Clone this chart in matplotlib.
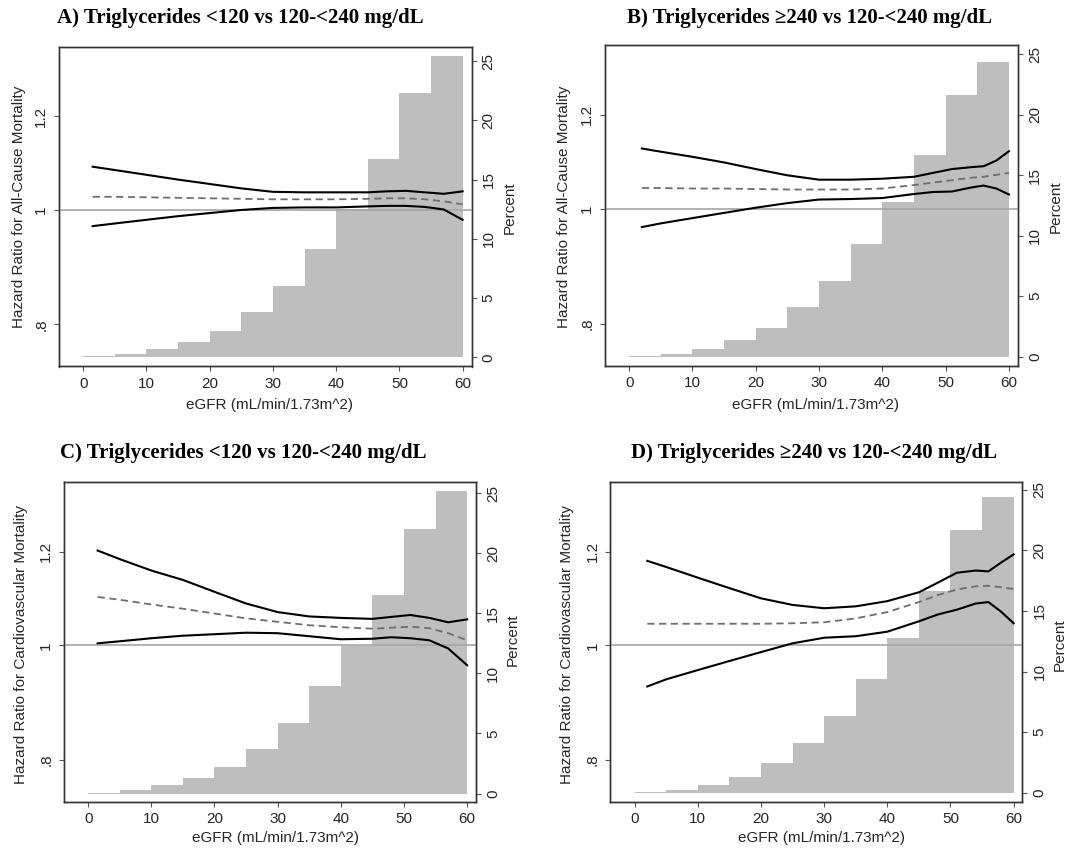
import numpy as np
import matplotlib
matplotlib.use("Agg")
import matplotlib.pyplot as plt
from matplotlib.ticker import NullLocator

# histogram of eGFR (percent of patients per 5-unit bin)
bin_left = [0, 5, 10, 15, 20, 25, 30, 35, 40, 45, 50, 55]
pct_a = [0.07, 0.25, 0.7, 1.33, 2.23, 3.84, 5.99, 9.15, 12.54, 16.72, 22.3, 25.45]
pct_b = [0.07, 0.2, 0.66, 1.35, 2.4, 4.08, 6.28, 9.34, 12.79, 16.68, 21.6, 24.37]
pct_c = [0.08, 0.28, 0.7, 1.33, 2.22, 3.75, 5.89, 8.94, 12.3, 16.5, 22.0, 25.17]
pct_d = [0.07, 0.22, 0.69, 1.35, 2.43, 4.09, 6.35, 9.39, 12.76, 16.68, 21.63, 24.37]

# hazard ratio curves (upper CI, estimate, lower CI)
x_a = [1.5, 5, 10, 15, 20, 25, 30, 35, 40, 45, 48, 51, 54, 57, 60]
up_a = [1.088, 1.081, 1.071, 1.061, 1.052, 1.043, 1.036, 1.035, 1.035, 1.035, 1.037, 1.038, 1.035, 1.032, 1.037]
est_a = [1.026, 1.026, 1.025, 1.024, 1.023, 1.022, 1.021, 1.021, 1.021, 1.022, 1.023, 1.023, 1.021, 1.017, 1.011]
lo_a = [0.969, 0.974, 0.981, 0.988, 0.994, 1.000, 1.004, 1.005, 1.005, 1.007, 1.008, 1.008, 1.006, 1.001, 0.981]

x_b = [2, 5, 10, 15, 20, 25, 30, 35, 40, 45, 48, 51, 54, 56, 58, 60]
up_b = [1.124, 1.117, 1.106, 1.094, 1.080, 1.067, 1.058, 1.058, 1.060, 1.064, 1.072, 1.080, 1.084, 1.086, 1.098, 1.118]
est_b = [1.041, 1.041, 1.040, 1.040, 1.039, 1.038, 1.038, 1.038, 1.040, 1.047, 1.052, 1.057, 1.062, 1.064, 1.068, 1.072]
lo_b = [0.965, 0.972, 0.982, 0.992, 1.002, 1.011, 1.018, 1.019, 1.021, 1.029, 1.033, 1.034, 1.042, 1.046, 1.040, 1.028]

x_c = [1.5, 5, 10, 15, 20, 25, 30, 35, 40, 45, 48, 51, 54, 57, 60]
up_c = [1.203, 1.183, 1.157, 1.136, 1.110, 1.085, 1.067, 1.058, 1.055, 1.053, 1.057, 1.061, 1.055, 1.046, 1.052]
est_c = [1.099, 1.093, 1.083, 1.074, 1.064, 1.054, 1.047, 1.040, 1.036, 1.033, 1.035, 1.037, 1.034, 1.024, 1.010]
lo_c = [1.004, 1.008, 1.014, 1.019, 1.022, 1.025, 1.024, 1.018, 1.012, 1.013, 1.016, 1.014, 1.010, 0.994, 0.962]

x_d = [2, 5, 10, 15, 20, 25, 30, 35, 40, 45, 48, 51, 54, 56, 58, 60]
up_d = [1.179, 1.165, 1.141, 1.118, 1.096, 1.082, 1.075, 1.079, 1.090, 1.109, 1.130, 1.152, 1.157, 1.155, 1.175, 1.194]
est_d = [1.043, 1.043, 1.043, 1.043, 1.043, 1.044, 1.046, 1.054, 1.067, 1.088, 1.103, 1.115, 1.122, 1.123, 1.120, 1.116]
lo_d = [0.923, 0.936, 0.953, 0.970, 0.987, 1.004, 1.015, 1.018, 1.027, 1.048, 1.062, 1.072, 1.085, 1.088, 1.068, 1.044]

titles = ['A) Triglycerides <120 vs 120-<240 mg/dL',
          'B) Triglycerides \u2265240 vs 120-<240 mg/dL',
          'C) Triglycerides <120 vs 120-<240 mg/dL',
          'D) Triglycerides \u2265240 vs 120-<240 mg/dL']
ylabels = ['Hazard Ratio for All-Cause Mortality', 'Hazard Ratio for All-Cause Mortality',
           'Hazard Ratio for Cardiovascular Mortality', 'Hazard Ratio for Cardiovascular Mortality']
xlabel = 'eGFR (mL/min/1.73m^2)'

W, H = 1071, 852
fig = plt.figure(figsize=(W / 100, H / 100), dpi=100)

sans = ['Liberation Sans', 'DejaVu Sans']
serif = ['Liberation Serif', 'DejaVu Serif']
txt_col = '#262626'

# layout in pixels: axes box, title, y label, "Percent", x label
panels = [
    dict(box=(58.5, 47, 471.5, 366.5), pct=pct_a, x=x_a, up=up_a, est=est_a, lo=lo_a, plim=(-0.78, 26.2),
         title=(240, 18), ylab=(19, 207), perc=(510, 208), xlab=(270, 405)),
    dict(box=(604.5, 45, 1017.8, 366), pct=pct_b, x=x_b, up=up_b, est=est_b, lo=lo_b, plim=(-0.77, 25.77),
         title=(810, 18), ylab=(564, 207), perc=(1056, 207), xlab=(816, 405)),
    dict(box=(63.5, 482.3, 476, 802), pct=pct_c, x=x_c, up=up_c, est=est_c, lo=lo_c, plim=(-0.7, 25.9),
         title=(243, 453), ylab=(21, 645), perc=(513, 640), xlab=(275, 838)),
    dict(box=(610, 482.3, 1022.5, 802), pct=pct_d, x=x_d, up=up_d, est=est_d, lo=lo_d, plim=(-0.75, 25.6),
         title=(814, 453), ylab=(567, 645), perc=(1060, 645), xlab=(822, 838)),
]

for i, p in enumerate(panels):
    x0, y0, x1, y1 = p['box']
    ax = fig.add_axes([x0 / W, 1 - y1 / H, (x1 - x0) / W, (y1 - y0) / H])
    ax.bar(bin_left, p['pct'], width=5, align='edge', color='#bebebe', linewidth=0)
    ax.set_xlim(-3.9, 61.4)
    ax.set_ylim(*p['plim'])
    ax.set_xticks(range(0, 61, 10))
    ax.set_yticks(range(0, 26, 5))

    hr = ax.twinx()
    hr.set_yscale('log')
    hr.axhline(1, color='#a6a6a6', lw=1.2)
    hr.plot(p['x'], p['up'], color='black', lw=1.5)
    hr.plot(p['x'], p['lo'], color='black', lw=1.5)
    hr.plot(p['x'], p['est'], color='#6e6e6e', lw=1.3, ls=(0, (4, 2.5)))
    hr.set_ylim(0.737, 1.374)
    hr.set_yticks([0.8, 1, 1.2])
    hr.set_yticklabels(['.8', '1', '1.2'])
    hr.yaxis.set_minor_locator(NullLocator())

    # percent axis on the right, hazard ratio axis on the left
    ax.yaxis.set_ticks_position('right')
    ax.yaxis.set_label_position('right')
    hr.yaxis.set_ticks_position('left')
    hr.yaxis.set_label_position('left')

    for a in (ax, hr):
        a.tick_params(direction='out', length=3.8, width=0.8, color='#555555',
                      labelsize=11, labelcolor=txt_col, pad=3.5)
        for s in a.spines.values():
            s.set_color('#333333')
            s.set_linewidth(1.0)
    ax.tick_params(axis='y', labelrotation=90)
    hr.tick_params(axis='y', labelrotation=90)
    for lbl in ax.get_yticklabels() + hr.get_yticklabels() + ax.get_xticklabels():
        lbl.set_fontfamily(sans)
    for lbl in ax.get_yticklabels() + hr.get_yticklabels():
        lbl.set_va('center')

    fig.text(p['title'][0] / W, 1 - p['title'][1] / H, titles[i], ha='center', va='center',
             fontsize=15, fontweight='bold', family=serif, color='black')
    fig.text(p['ylab'][0] / W, 1 - p['ylab'][1] / H, ylabels[i], ha='center', va='center',
             rotation=90, fontsize=11, family=sans, color=txt_col)
    fig.text(p['perc'][0] / W, 1 - p['perc'][1] / H, 'Percent', ha='center', va='center',
             rotation=90, fontsize=11, family=sans, color=txt_col)
    fig.text(p['xlab'][0] / W, 1 - p['xlab'][1] / H, xlabel, ha='center', va='center',
             fontsize=11, family=sans, color=txt_col)

plt.savefig('out.png', dpi=100)
